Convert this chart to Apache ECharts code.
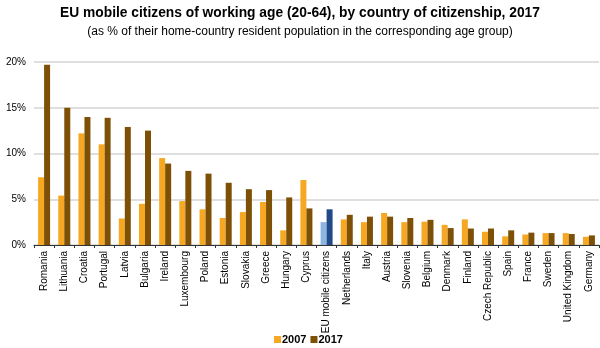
<!DOCTYPE html>
<html><head><meta charset="utf-8">
<script src="https://cdn.jsdelivr.net/npm/echarts@6/dist/echarts.min.js"></script>
<style>html,body{margin:0;padding:0;background:#fff}#c{width:600px;height:348px}</style>
</head><body><div id="c"></div>
<script>
const categories = ["Romania","Lithuania","Croatia","Portugal","Latvia","Bulgaria","Ireland","Luxembourg","Poland","Estonia","Slovakia","Greece","Hungary","Cyprus","EU mobile citizens","Netherlands","Italy","Austria","Slovenia","Belgium","Denmark","Finland","Czech Republic","Spain","France","Sweden","United Kingdom","Germany"];
const values2007 = [7.4,5.4,12.2,11.0,2.9,4.5,9.5,4.8,3.9,2.95,3.6,4.7,1.6,7.1,2.5,2.8,2.5,3.5,2.5,2.55,2.2,2.8,1.45,0.95,1.15,1.3,1.3,0.9];
const values2017 = [19.7,15.0,14.0,13.9,12.9,12.5,8.9,8.1,7.8,6.8,6.1,6.0,5.2,4.0,3.9,3.3,3.1,3.1,2.95,2.75,1.85,1.8,1.8,1.6,1.35,1.3,1.2,1.05];
const highlight = "EU mobile citizens";
const yTicks = [0,5,10,15,20];

const c2007 = '#F7A823', c2017 = '#7D5006', h2007 = '#8DB4E2', h2017 = '#1F4A87';
const font = '"Liberation Sans", Arial, sans-serif';
const chart = echarts.init(document.getElementById('c'));
chart.setOption({
  animation:false,
  title:[
    {text:'EU mobile citizens of working age (20-64), by country of citizenship, 2017', left:'center', top:1,
     textStyle:{fontFamily:font,fontSize:13.8,fontWeight:'bold',color:'#000'}},
    {text:'(as % of their home-country resident population in the corresponding age group)', left:'center', top:21,
     textStyle:{fontFamily:font,fontSize:12,fontWeight:'normal',color:'#000'}}
  ],
  legend:{top:334,left:274,itemWidth:7,itemHeight:7,itemGap:4,icon:'rect',padding:0,
    textStyle:{fontFamily:font,fontSize:11,fontWeight:'bold',color:'#000',padding:[0,0,0,-4]},
    data:[{name:'2007',itemStyle:{color:c2007}},{name:'2017',itemStyle:{color:c2017}}]},
  grid:{left:34,right:1,top:62,bottom:103},
  xAxis:{type:'category',data:categories,
    axisLine:{lineStyle:{color:'#333',width:1}},
    axisTick:{show:true,length:3,lineStyle:{color:'#333'}},
    axisLabel:{rotate:90,interval:0,fontFamily:font,fontSize:10,color:'#000',margin:6}},
  yAxis:{type:'value',min:0,max:20,interval:5,
    axisLine:{show:false},axisTick:{show:false},
    axisLabel:{formatter:v=>v+'%',fontFamily:font,fontSize:10,color:'#000',margin:8},
    splitLine:{lineStyle:{color:'#D4D4D4',width:1.5}}},
  series:[
    {name:'2007',type:'bar',barWidth:6,barGap:'0%',
     data:values2007.map((v,i)=>({value:v,itemStyle:{color:categories[i]===highlight?h2007:c2007}})),
     itemStyle:{color:c2007}},
    {name:'2017',type:'bar',barWidth:6,barGap:'0%',
     data:values2017.map((v,i)=>({value:v,itemStyle:{color:categories[i]===highlight?h2017:c2017}})),
     itemStyle:{color:c2017}}
  ]
});
</script></body></html>
